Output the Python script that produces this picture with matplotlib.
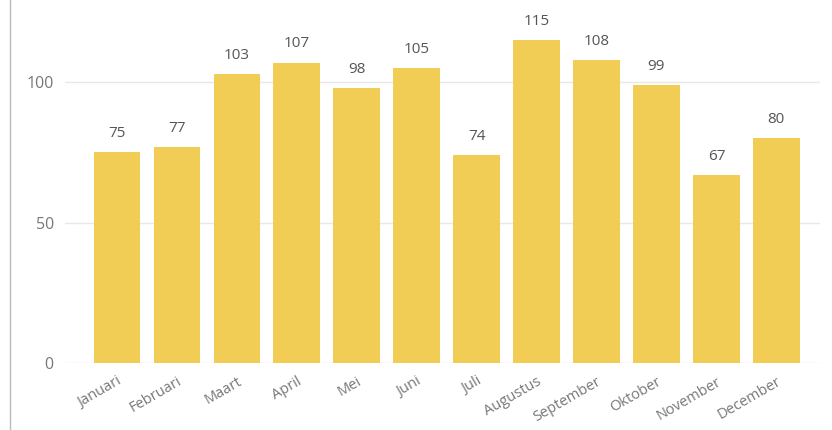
import matplotlib.pyplot as plt
from matplotlib.lines import Line2D

months = ['Januari', 'Februari', 'Maart', 'April', 'Mei', 'Juni', 'Juli',
          'Augustus', 'September', 'Oktober', 'November', 'December']
values = [75, 77, 103, 107, 98, 105, 74, 115, 108, 99, 67, 80]
yticks = [0, 50, 100]

plt.rcParams['font.family'] = ['Open Sans', 'DejaVu Sans']

fig = plt.figure(figsize=(8.32, 4.30), dpi=100)
ax = fig.add_axes([0.078, 0.156, 0.907, 0.816])

x = range(len(months))
bars = ax.bar(x, values, width=0.78, color='#F2CD55', zorder=2)

for b, v in zip(bars, values):
    ax.text(b.get_x() + b.get_width() / 2, v + 4, str(v), ha='center', va='bottom',
            fontsize=11, color='#555555')

ax.set_xlim(-0.87, 11.72)
ax.set_ylim(0, 125)
ax.set_yticks(yticks)
ax.set_yticklabels([str(t) for t in yticks], fontsize=11.5, color='#777777')
ax.set_xticks(list(x))
ax.set_xticklabels(months, rotation=30, ha='right', rotation_mode='anchor',
                   fontsize=10.5, color='#777777')
ax.tick_params(axis='both', length=0, pad=8)
ax.grid(axis='y', color='#E8E8E8', linewidth=1, zorder=0)
for s in ax.spines.values():
    s.set_visible(False)

# window border on the left
fig.add_artist(Line2D([0.012, 0.012], [0, 1], transform=fig.transFigure,
                      color='#BBBBBB', linewidth=1))

fig.savefig('out.png', dpi=100)
